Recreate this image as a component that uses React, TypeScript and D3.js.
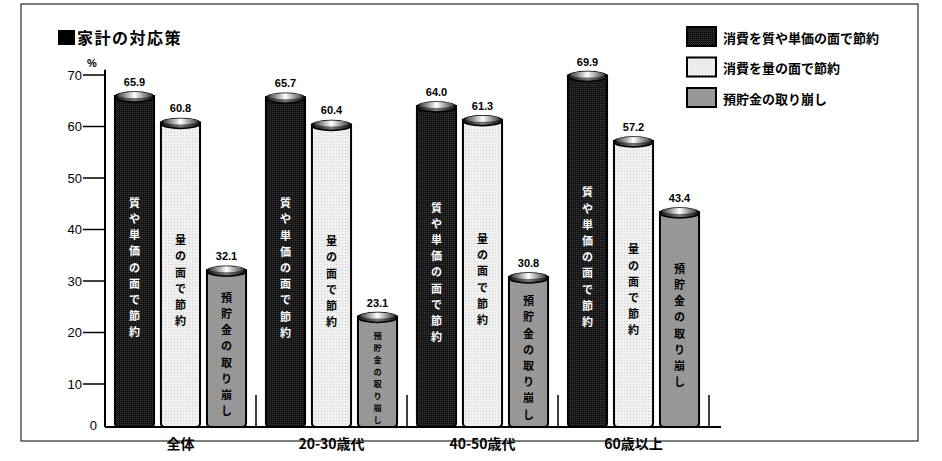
import React from 'react';
import * as d3 from 'd3';

const categories = ['全体', '20-30歳代', '40-50歳代', '60歳以上'];
const seriesNames = ['消費を質や単価の面で節約', '消費を量の面で節約', '預貯金の取り崩し'];
const barLabels = ['質や単価の面で節約', '量の面で節約', '預貯金の取り崩し'];
const qualitySaving = [65.9, 65.7, 64.0, 69.9];
const quantitySaving = [60.8, 60.4, 61.3, 57.2];
const savingsDrawdown = [32.1, 23.1, 30.8, 43.4];
const yTicks = [10, 20, 30, 40, 50, 60, 70];
const title = '家計の対応策';
const unit = '%';

const series = [qualitySaving, quantitySaving, savingsDrawdown];
const fills = ['url(#patDark)', 'url(#patLight)', 'url(#patGray)'];
const textFills = ['#fff', '#000', '#000'];

const FONT = '"Noto Sans CJK JP", "Noto Sans", sans-serif';

export default function App() {
  const left = 105;
  const right = 709;
  const baseline = 427;
  const y = d3.scaleLinear().domain([0, 70]).range([435.5, 75]);
  const x0 = d3.scaleBand<string>().domain(categories).range([left, right]);
  const x1 = d3
    .scaleBand<string>()
    .domain(['0', '1', '2'])
    .range([0, x0.bandwidth()])
    .paddingInner(0.15)
    .paddingOuter(0.216);
  const bw = x1.bandwidth();
  const ry = 5;

  return (
    <svg
      width={942}
      height={461}
      style={{ position: 'absolute', left: 0, top: 0, display: 'block', background: '#fff' }}
      fontFamily={FONT}
    >
      <defs>
        <pattern id="patDark" width={2} height={2} patternUnits="userSpaceOnUse">
          <rect width={2} height={2} fill="#141414" />
          <rect width={1} height={1} fill="#3a3a3a" />
        </pattern>
        <pattern id="patLight" width={3} height={3} patternUnits="userSpaceOnUse">
          <rect width={3} height={3} fill="#f0f0f0" />
          <rect width={1} height={1} fill="#cfcfcf" />
        </pattern>
        <pattern id="patGray" width={2} height={2} patternUnits="userSpaceOnUse">
          <rect width={2} height={2} fill="#9a9a9a" />
          <rect width={1} height={1} fill="#8f8f8f" />
        </pattern>
        <linearGradient id="capGrad" x1="0" x2="1" y1="0" y2="0">
          <stop offset="0" stopColor="#3a3a3a" />
          <stop offset="0.5" stopColor="#ffffff" />
          <stop offset="1" stopColor="#3a3a3a" />
        </linearGradient>
        <linearGradient id="rimGrad" x1="0" x2="1" y1="0" y2="0">
          <stop offset="0" stopColor="#111" />
          <stop offset="0.5" stopColor="#777" />
          <stop offset="1" stopColor="#111" />
        </linearGradient>
      </defs>

      <rect x={21} y={4} width={897} height={437} fill="none" stroke="#000" strokeWidth={1} />

      {/* title */}
      <rect x={58} y={30} width={17} height={15} fill="#000" />
      <text x={77} y={44} fontSize={16} fontWeight="bold" letterSpacing={1.5}>
        {title}
      </text>

      {/* y axis */}
      <line x1={left} x2={left} y1={y(71)} y2={baseline} stroke="#000" strokeWidth={2} />
      {yTicks.map((t) => (
        <g key={t}>
          <line x1={83} x2={left} y1={y(t)} y2={y(t)} stroke="#000" strokeWidth={1.5} />
          <text x={82} y={y(t)} fontSize={13} textAnchor="end" dominantBaseline="central" fontFamily="Liberation Sans, sans-serif">
            {t}
          </text>
        </g>
      ))}
      <text x={97} y={baseline - 2} fontSize={13} textAnchor="end" dominantBaseline="central" fontFamily="Liberation Sans, sans-serif">
        0
      </text>
      <text x={92} y={y(71.5)} fontSize={11} fontWeight="bold" textAnchor="middle" fontFamily="Liberation Sans, sans-serif">
        {unit}
      </text>

      {/* x axis */}
      <line x1={left} x2={right + 12} y1={baseline} y2={baseline} stroke="#000" strokeWidth={2} />
      {categories.map((c) => (
        <line
          key={'sep' + c}
          x1={(x0(c) as number) + x0.bandwidth()}
          x2={(x0(c) as number) + x0.bandwidth()}
          y1={baseline}
          y2={baseline - 32}
          stroke="#000"
          strokeWidth={1.5}
        />
      ))}
      {categories.map((c) => (
        <text
          key={'lab' + c}
          x={(x0(c) as number) + x0.bandwidth() / 2}
          y={449}
          fontSize={14}
          fontWeight="bold"
          textAnchor="middle"
        >
          {c}
        </text>
      ))}

      {/* bars */}
      {categories.map((c, ci) => (
        <g key={'g' + c}>
          {series.map((s, si) => {
            const v = s[ci];
            const bx = (x0(c) as number) + (x1(String(si)) as number);
            const top = y(v);
            const h = baseline - top;
            const label = barLabels[si];
            const step = Math.min(16.2, (h - 14) / label.length);
            const fs = step / 1.47;
            const textLen = step * label.length;
            const cy = top + h / 2 + 5 - textLen / 2;
            return (
              <g key={si}>
                <path
                  d={`M${bx},${top} L${bx},${baseline - 4} Q${bx},${baseline} ${bx + 4},${baseline} L${bx + bw - 4},${baseline} Q${bx + bw},${baseline} ${bx + bw},${baseline - 4} L${bx + bw},${top} Z`}
                  fill={fills[si]}
                  stroke="#000"
                  strokeWidth={2}
                />
                <ellipse cx={bx + bw / 2} cy={top + 1} rx={bw / 2} ry={ry} fill="url(#rimGrad)" stroke="#000" strokeWidth={1.5} />
                <ellipse cx={bx + bw / 2} cy={top - 1} rx={bw / 2 - 2} ry={ry - 2} fill="url(#capGrad)" />
                <text
                  x={bx + bw / 2}
                  y={top - ry - 5}
                  fontSize={11}
                  fontWeight="bold"
                  textAnchor="middle"
                  fontFamily="Liberation Sans, sans-serif"
                >
                  {v.toFixed(1)}
                </text>
                {Array.from(label).map((ch, k) => (
                  <text
                    key={k}
                    x={bx + bw / 2}
                    y={cy + k * step + step / 2}
                    fontSize={fs}
                    fontWeight="bold"
                    textAnchor="middle"
                    dominantBaseline="central"
                    fill={textFills[si]}
                  >
                    {ch}
                  </text>
                ))}
              </g>
            );
          })}
        </g>
      ))}

      {/* legend */}
      {seriesNames.map((n, i) => (
        <g key={'leg' + i} transform={`translate(687, ${27 + i * 30.5})`}>
          <rect width={29} height={19} fill={fills[i]} stroke="#000" strokeWidth={2} />
          <text x={36} y={10} fontSize={13} fontWeight="bold" dominantBaseline="central">
            {n}
          </text>
        </g>
      ))}
    </svg>
  );
}
